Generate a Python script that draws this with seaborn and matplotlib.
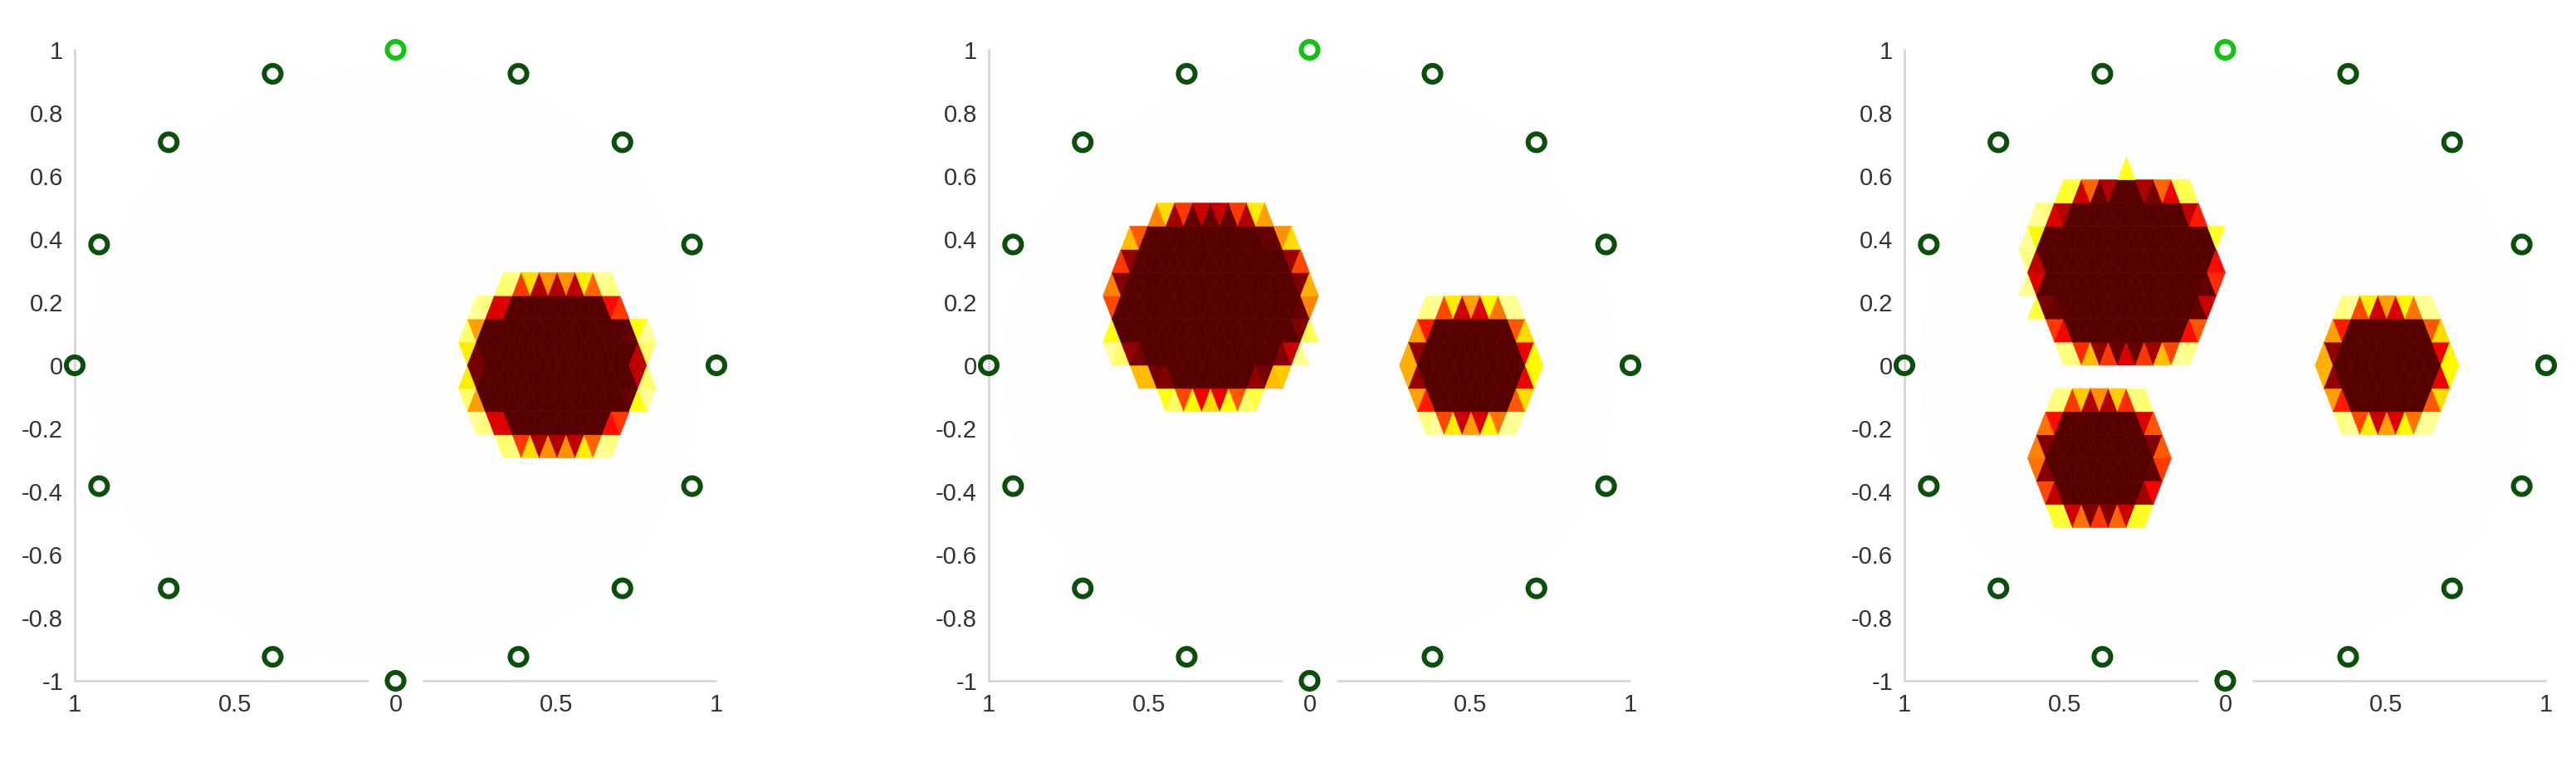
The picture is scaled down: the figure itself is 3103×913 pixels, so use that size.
import numpy as np
import pandas as pd
import matplotlib
matplotlib.use("Agg")
import matplotlib.pyplot as plt
import matplotlib.tri as mtri
from matplotlib.patches import Circle
import seaborn as sns

# electrode positions (16 electrodes on the unit circle, first one highlighted)
electrode_x = [0.0, 0.383, 0.707, 0.924, 1.0, 0.924, 0.707, 0.383,
               0.0, -0.383, -0.707, -0.924, -1.0, -0.924, -0.707, -0.383]
electrode_y = [1.0, 0.924, 0.707, 0.383, 0.0, -0.383, -0.707, -0.924,
               -1.0, -0.924, -0.707, -0.383, 0.0, 0.383, 0.707, 0.924]
electrode_kind = ["first"] + ["other"] * 15

# inclusions per panel: centre and radius
panel_cx = [[0.5], [-0.31, 0.5], [-0.31, -0.39, 0.5]]
panel_cy = [[0.0], [0.2, 0.0], [0.3, -0.30, 0.0]]
panel_r = [[0.27], [0.31, 0.19], [0.29, 0.20, 0.19]]

x_ticks = [-1, -0.5, 0, 0.5, 1]
x_tick_labels = ["1", "0.5", "0", "0.5", "1"]
y_ticks = [-1, -0.8, -0.6, -0.4, -0.2, 0, 0.2, 0.4, 0.6, 0.8, 1]
y_tick_labels = ["-1", "-0.8", "-0.6", "-0.4", "-0.2", "0", "0.2", "0.4", "0.6", "0.8", "1"]

sns.set_style("white")
plt.rcParams["font.family"] = ["Liberation Sans", "DejaVu Sans"]


def build_mesh(h=0.056, dy=0.0735, radius=1.0):
    nrow = int(np.ceil(radius / dy)) + 1
    ncol = int(np.ceil(radius / h)) + 2
    rows = np.arange(-nrow, nrow + 1)
    cols = np.arange(-ncol, ncol + 1)
    pts, idx = [], {}
    for j in rows:
        off = 0.5 * h if j % 2 else 0.0
        for i in cols:
            idx[(i, j)] = len(pts)
            pts.append((i * h + off, j * dy))
    tris = []
    for j in rows[:-1]:
        for i in cols[:-1]:
            if j % 2 == 0:
                tris.append((idx[(i, j)], idx[(i + 1, j)], idx[(i, j + 1)]))
                tris.append((idx[(i + 1, j)], idx[(i + 1, j + 1)], idx[(i, j + 1)]))
            else:
                tris.append((idx[(i, j)], idx[(i + 1, j + 1)], idx[(i, j + 1)]))
                tris.append((idx[(i, j)], idx[(i + 1, j)], idx[(i + 1, j + 1)]))
    return np.array(pts), np.array(tris)


pts, tris = build_mesh()

# barycentric sample points inside each triangle
n = 7
bary = np.array([(a, b, n - a - b) for a in range(n + 1) for b in range(n + 1 - a)], float) / n
bary = bary * 0.96 + 0.04 / 3


def coverage(cx, cy, r):
    tri_pts = pts[tris]  # (ntri, 3, 2)
    sx = np.einsum("kv,tv->tk", bary, tri_pts[:, :, 0])
    sy = np.einsum("kv,tv->tk", bary, tri_pts[:, :, 1])
    inside = np.zeros_like(sx, dtype=bool)
    for x0, y0, rr in zip(cx, cy, r):
        inside |= (sx - x0) ** 2 + (sy - y0) ** 2 <= rr ** 2
    return inside.mean(axis=1)


fig = plt.figure(figsize=(31.03, 9.13), dpi=100)
lefts = [90 / 3103, 1191 / 3103, 2294 / 3103]
width = 773 / 3103
bottom = (913 - 820) / 913
height = 760 / 913

df_el = pd.DataFrame({"x": electrode_x, "y": electrode_y, "kind": electrode_kind})
el_colors = {"first": "#12c312", "other": "#0a500a"}

for k in range(3):
    ax = fig.add_axes([lefts[k], bottom, width, height])
    ax.add_patch(Circle((0, 0), 0.95, fc="#fdfdfd", ec="none", zorder=0))

    f = coverage(panel_cx[k], panel_cy[k], panel_r[k])
    keep = f > 0
    tri = mtri.Triangulation(pts[:, 0], pts[:, 1], tris[keep])
    vals = 0.115 + (1 - f[keep]) * 0.8
    ax.tripcolor(tri, facecolors=vals, cmap="hot", vmin=0, vmax=1,
                 edgecolors="face", linewidth=0.4, zorder=2)

    for kind, col in el_colors.items():
        sub = df_el[df_el["kind"] == kind]
        sns.scatterplot(data=sub, x="x", y="y", ax=ax, s=210, marker="o",
                        facecolor="none", edgecolor=col, linewidth=4.3,
                        zorder=5, clip_on=False, legend=False)

    ax.set_xlim(-1, 1)
    ax.set_ylim(-1, 1)
    ax.set_xticks(x_ticks)
    ax.set_xticklabels(x_tick_labels)
    ax.set_yticks(y_ticks)
    ax.set_yticklabels(y_tick_labels)
    ax.set_xlabel("")
    ax.set_ylabel("")
    for side in ["top", "right", "bottom"]:
        ax.spines[side].set_visible(False)
    ax.spines["left"].set_color("#d6d6d6")
    ax.spines["left"].set_linewidth(2)
    ax.hlines([-1, -1], [-1, 0.085], [-0.085, 1], colors="#d6d6d6", linewidth=2,
              zorder=1, clip_on=False)
    ax.tick_params(axis="both", direction="in", labelsize=21, labelcolor="#333333")
    ax.tick_params(axis="y", length=8, width=1.6, color="#444444", pad=10)
    ax.tick_params(axis="x", length=7, width=1.2, color="#c8c8c8", pad=11)
    ax.set_facecolor("none")

fig.savefig("out.png", dpi=100, facecolor="white")
plt.close(fig)
